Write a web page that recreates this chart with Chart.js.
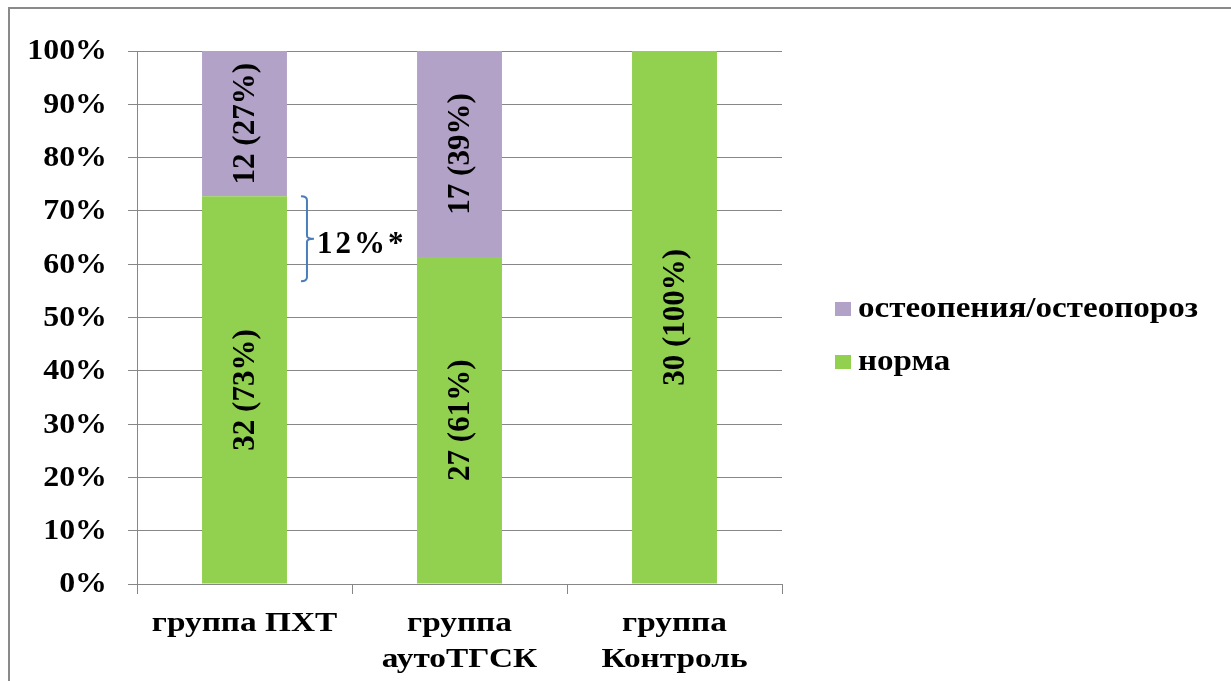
<!DOCTYPE html>
<html>
<head>
<meta charset="utf-8">
<script src="https://cdn.jsdelivr.net/npm/chart.js@4.4.0/dist/chart.umd.min.js"></script>
<style>
    html, body { margin: 0; padding: 0; background: #fff; overflow: hidden; }
    .frame {
        position: absolute; left: 8px; top: 7px;
        width: 1400px; height: 900px;
        border: 2px solid #8a8a8a;
    }
    #chart { position: absolute; left: 0; top: 0; }
</style>
</head>
<body>
<div class="frame"></div>
<canvas id="chart" width="1231" height="681"></canvas>
<script>
const categories = [['группа ПХТ'], ['группа', 'аутоТГСК'], ['группа', 'Контроль']];
const normCounts = [32, 27, 30];
const osteoCounts = [12, 17, 0];
const seriesNames = ['норма', 'остеопения/остеопороз'];
const seriesColors = ['#92d050', '#b3a2c7'];
const yTicks = [0, 10, 20, 30, 40, 50, 60, 70, 80, 90, 100];

// shares of each group, in percent
const totals = normCounts.map((n, i) => n + osteoCounts[i]);
const normPct = normCounts.map((n, i) => n / totals[i] * 100);
const osteoPct = osteoCounts.map((n, i) => n / totals[i] * 100);
const counts = [normCounts, osteoCounts];

// bracket next to the ПХТ bar, lower end value
const bracketLow = 56.8;

const FONT = '"Liberation Serif", "Times New Roman", serif';
const GRID = '#878787';

// text a bit wider than the serif face draws it
function wideText(ctx, text, x, y, align, sx) {
    ctx.save();
    ctx.translate(x, y);
    ctx.scale(sx, 1);
    ctx.textAlign = align;
    ctx.fillText(text, 0, 0);
    ctx.restore();
}

const axisLabels = {
    id: 'axisLabels',
    afterDraw(chart) {
        const ctx = chart.ctx;
        const x = chart.scales.x, y = chart.scales.y;
        ctx.save();
        ctx.fillStyle = '#000';

        ctx.font = 'bold 29px ' + FONT;
        ctx.textBaseline = 'middle';
        y.ticks.forEach(t => {
            wideText(ctx, t.value + '%', y.right - 30, y.getPixelForValue(t.value) + 1, 'right', 1.1);
        });

        ctx.font = 'bold 28px ' + FONT;
        ctx.textBaseline = 'alphabetic';
        chart.data.labels.forEach((lines, i) => {
            const cx = x.getPixelForValue(i);
            lines.forEach((line, k) => {
                wideText(ctx, line, cx, x.top + 47 + k * 36, 'center', 1.19);
            });
        });
        ctx.restore();
    }
};

const valueLabels = {
    id: 'valueLabels',
    afterDatasetsDraw(chart) {
        const ctx = chart.ctx;
        ctx.save();
        ctx.font = 'bold 31px ' + FONT;
        ctx.fillStyle = '#000';
        ctx.textAlign = 'center';
        ctx.textBaseline = 'middle';
        chart.data.datasets.forEach((ds, di) => {
            chart.getDatasetMeta(di).data.forEach((bar, i) => {
                if (!ds.data[i]) return;
                const cy = (bar.y + bar.base) / 2;
                ctx.save();
                ctx.translate(bar.x, cy);
                ctx.rotate(-Math.PI / 2);
                ctx.fillText(counts[di][i] + ' (' + Math.round(ds.data[i]) + '%)', 0, 1);
                ctx.restore();
            });
        });
        ctx.restore();
    }
};

const bracket = {
    id: 'bracket',
    afterDraw(chart) {
        const ctx = chart.ctx;
        const y = chart.scales.y;
        const bar = chart.getDatasetMeta(0).data[0];
        const top = y.getPixelForValue(normPct[0]);
        const bottom = y.getPixelForValue(bracketLow);
        const mid = (top + bottom) / 2;
        const x = bar.x + bar.width / 2 + 20;
        ctx.save();
        ctx.strokeStyle = '#4a7ebb';
        ctx.lineWidth = 2;
        ctx.beginPath();
        ctx.moveTo(x - 6, top);
        ctx.quadraticCurveTo(x, top, x, top + 4);
        ctx.lineTo(x, mid - 3);
        ctx.quadraticCurveTo(x, mid, x + 7, mid);
        ctx.quadraticCurveTo(x, mid, x, mid + 3);
        ctx.lineTo(x, bottom - 4);
        ctx.quadraticCurveTo(x, bottom, x - 6, bottom);
        ctx.stroke();

        ctx.font = 'bold 31px ' + FONT;
        ctx.letterSpacing = '3px';
        ctx.fillStyle = '#000';
        ctx.textBaseline = 'alphabetic';
        const diff = Math.round(normPct[0]) - Math.round(normPct[1]);
        ctx.fillText(diff + '%*', x + 10, mid + 14);
        ctx.restore();
    }
};

const sideLegend = {
    id: 'sideLegend',
    afterDraw(chart) {
        const ctx = chart.ctx;
        const x = chart.chartArea.right + 53;
        const baselines = [317, 370];
        ctx.save();
        ctx.font = 'bold 29px ' + FONT;
        ctx.textBaseline = 'alphabetic';
        // purple entry on top, as in the stacking order
        [1, 0].forEach((di, r) => {
            const ds = chart.data.datasets[di];
            ctx.fillStyle = ds.backgroundColor;
            ctx.fillRect(x, baselines[r] - 15, 16, 14);
            ctx.fillStyle = '#000';
            wideText(ctx, ds.label, x + 23, baselines[r], 'left', 1.14);
        });
        ctx.restore();
    }
};

new Chart(document.getElementById('chart'), {
    type: 'bar',
    data: {
        labels: categories,
        datasets: [
            { label: seriesNames[0], data: normPct, backgroundColor: seriesColors[0] },
            { label: seriesNames[1], data: osteoPct, backgroundColor: seriesColors[1] }
        ]
    },
    options: {
        responsive: false,
        animation: false,
        layout: { padding: { left: 0, top: 51, right: 449, bottom: 0 } },
        datasets: { bar: { categoryPercentage: 1, barPercentage: 0.395 } },
        plugins: {
            legend: { display: false },
            tooltip: { enabled: false }
        },
        scales: {
            x: {
                stacked: true,
                afterFit: s => { s.height = 97; },
                grid: { drawOnChartArea: false, offset: true, color: GRID, tickLength: 10 },
                border: { color: GRID },
                ticks: { display: false }
            },
            y: {
                stacked: true,
                min: 0,
                max: 100,
                afterFit: s => { s.width = 137; },
                afterBuildTicks: s => { s.ticks = yTicks.map(v => ({ value: v })); },
                grid: { color: GRID, tickLength: 9 },
                border: { color: GRID },
                ticks: { display: false }
            }
        }
    },
    plugins: [valueLabels, bracket, axisLabels, sideLegend]
});
</script>
</body>
</html>
